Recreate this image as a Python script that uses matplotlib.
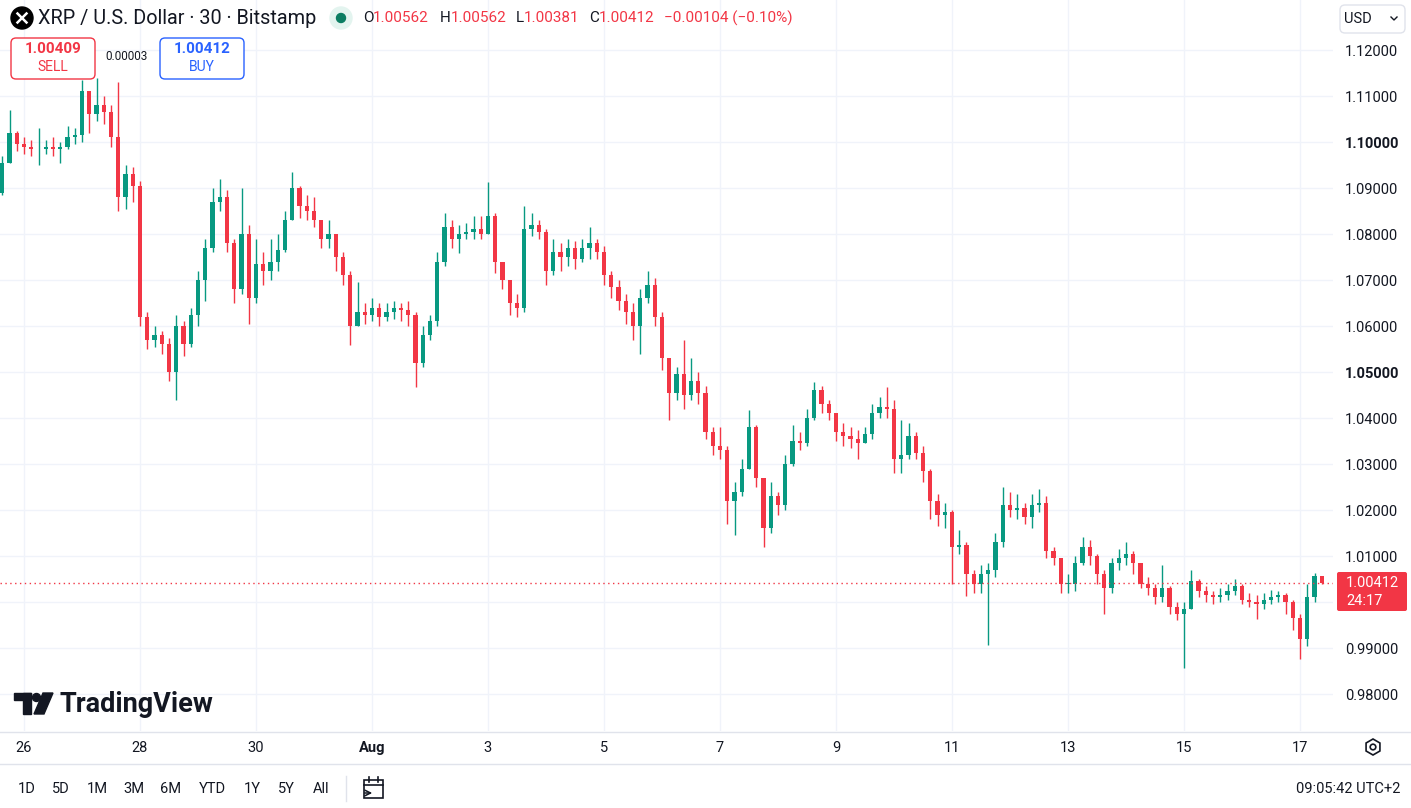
import numpy as np
import matplotlib
matplotlib.use('Agg')
import matplotlib.pyplot as plt
from matplotlib.patches import FancyBboxPatch, Circle, Rectangle, Polygon, RegularPolygon

plt.rcParams['font.family'] = ['Roboto', 'DejaVu Sans']

# 3-hour candles, first one Jul 25 15:00, last one Aug 17 09:00
first_open = 1.0890
closes = [
    1.0955, 1.1020, 1.0995,                                          # Jul 25
    1.0990, 1.0985, 1.0985, 1.0990, 1.0985, 1.0990, 1.1010, 1.1015,  # Jul 26
    1.1110, 1.1060, 1.1080, 1.1065, 1.1010, 1.0880, 1.0930, 1.0905,  # Jul 27
    1.0620, 1.0570, 1.0580, 1.0560, 1.0500, 1.0600, 1.0560, 1.0625,  # Jul 28
    1.0700, 1.0770, 1.0870, 1.0880, 1.0780, 1.0680, 1.0800, 1.0660,  # Jul 29
    1.0735, 1.0720, 1.0740, 1.0765, 1.0830, 1.0900, 1.0860, 1.0850,  # Jul 30
    1.0830, 1.0790, 1.0800, 1.0750, 1.0710, 1.0600, 1.0630, 1.0625,  # Jul 31
    1.0640, 1.0620, 1.0630, 1.0640, 1.0635, 1.0625, 1.0520, 1.0580,  # Aug 1
    1.0610, 1.0740, 1.0815, 1.0790, 1.0800, 1.0805, 1.0810, 1.0800,  # Aug 2
    1.0840, 1.0740, 1.0700, 1.0650, 1.0640, 1.0810, 1.0820, 1.0805,  # Aug 3
    1.0720, 1.0760, 1.0750, 1.0770, 1.0745, 1.0770, 1.0780, 1.0760,  # Aug 4
    1.0710, 1.0685, 1.0655, 1.0630, 1.0600, 1.0660, 1.0690, 1.0620,  # Aug 5
    1.0530, 1.0455, 1.0495, 1.0450, 1.0480, 1.0455, 1.0370, 1.0340,  # Aug 6
    1.0330, 1.0220, 1.0240, 1.0290, 1.0380, 1.0270, 1.0160, 1.0230,  # Aug 7
    1.0210, 1.0300, 1.0350, 1.0345, 1.0400, 1.0460, 1.0430, 1.0410,  # Aug 8
    1.0370, 1.0360, 1.0355, 1.0345, 1.0365, 1.0410, 1.0425, 1.0420,  # Aug 9
    1.0310, 1.0320, 1.0360, 1.0325, 1.0285, 1.0220, 1.0190, 1.0195,  # Aug 10
    1.0120, 1.0125, 1.0060, 1.0040, 1.0060, 1.0070, 1.0130, 1.0210,  # Aug 11
    1.0200, 1.0205, 1.0185, 1.0210, 1.0215, 1.0110, 1.0095, 1.0040,  # Aug 12
    1.0040, 1.0085, 1.0120, 1.0100, 1.0060, 1.0030, 1.0085, 1.0095,  # Aug 13
    1.0105, 1.0085, 1.0040, 1.0030, 1.0010, 1.0030, 0.9990, 0.9975,  # Aug 14
    0.9985, 1.0045, 1.0025, 1.0015, 1.0010, 1.0015, 1.0025, 1.0035,  # Aug 15
    1.0005, 1.0000, 0.9995, 1.0005, 1.0010, 1.0015, 1.0000, 0.9965,  # Aug 16
    0.9920, 1.0010, 1.0056, 1.00412,                                 # Aug 17
]
highs = [
    1.0970, 1.1070, 1.1025,
    1.1010, 1.1005, 1.1030, 1.1005, 1.1010, 1.1000, 1.1035, 1.1030,
    1.1135, 1.1110, 1.1140, 1.1100, 1.1080, 1.1130, 1.0950, 1.0945,
    1.0915, 1.0630, 1.0600, 1.0590, 1.0575, 1.0625, 1.0610, 1.0640,
    1.0720, 1.0790, 1.0900, 1.0920, 1.0895, 1.0790, 1.0900, 1.0820,
    1.0790, 1.0760, 1.0790, 1.0800, 1.0850, 1.0935, 1.0905, 1.0885,
    1.0880, 1.0830, 1.0830, 1.0800, 1.0760, 1.0720, 1.0695, 1.0650,
    1.0660, 1.0650, 1.0650, 1.0655, 1.0650, 1.0655, 1.0630, 1.0600,
    1.0625, 1.0760, 1.0845, 1.0830, 1.0820, 1.0825, 1.0840, 1.0840,
    1.0914, 1.0845, 1.0740, 1.0700, 1.0670, 1.0860, 1.0845, 1.0830,
    1.0810, 1.0790, 1.0780, 1.0790, 1.0785, 1.0790, 1.0815, 1.0790,
    1.0775, 1.0720, 1.0700, 1.0670, 1.0650, 1.0680, 1.0720, 1.0705,
    1.0630, 1.0530, 1.0510, 1.0570, 1.0530, 1.0500, 1.0470, 1.0380,
    1.0380, 1.0340, 1.0260, 1.0310, 1.0417, 1.0385, 1.0270, 1.0260,
    1.0240, 1.0320, 1.0385, 1.0370, 1.0420, 1.0479, 1.0470, 1.0440,
    1.0410, 1.0390, 1.0380, 1.0375, 1.0380, 1.0430, 1.0446, 1.0468,
    1.0440, 1.0395, 1.0390, 1.0370, 1.0340, 1.0290, 1.0235, 1.0215,
    1.0200, 1.0156, 1.0130, 1.0070, 1.0080, 1.0085, 1.0150, 1.0250,
    1.0240, 1.0235, 1.0215, 1.0235, 1.0245, 1.0230, 1.0120, 1.0090,
    1.0060, 1.0100, 1.0142, 1.0135, 1.0105, 1.0070, 1.0095, 1.0115,
    1.0130, 1.0110, 1.0085, 1.0055, 1.0040, 1.0080, 1.0035, 1.0000,
    1.0000, 1.0070, 1.0050, 1.0035, 1.0025, 1.0030, 1.0040, 1.0050,
    1.0040, 1.0020, 1.0015, 1.0020, 1.0026, 1.0025, 1.0020, 1.0005,
    0.9975, 1.0040, 1.0062, 1.00562,
]
lows = [
    1.0885, 1.0955, 1.0980,
    1.0975, 1.0970, 1.0950, 1.0975, 1.0970, 1.0955, 1.0985, 1.0995,
    1.1000, 1.1020, 1.1045, 1.1040, 1.0990, 1.0850, 1.0855, 1.0870,
    1.0600, 1.0550, 1.0555, 1.0540, 1.0480, 1.0440, 1.0535, 1.0555,
    1.0600, 1.0655, 1.0760, 1.0850, 1.0760, 1.0650, 1.0670, 1.0605,
    1.0650, 1.0690, 1.0700, 1.0720, 1.0760, 1.0830, 1.0835, 1.0830,
    1.0815, 1.0770, 1.0770, 1.0720, 1.0690, 1.0558, 1.0600, 1.0605,
    1.0610, 1.0600, 1.0610, 1.0615, 1.0610, 1.0600, 1.0467, 1.0510,
    1.0570, 1.0600, 1.0730, 1.0770, 1.0758, 1.0790, 1.0790, 1.0790,
    1.0800, 1.0715, 1.0680, 1.0625, 1.0620, 1.0630, 1.0795, 1.0790,
    1.0690, 1.0710, 1.0720, 1.0730, 1.0725, 1.0740, 1.0745, 1.0745,
    1.0690, 1.0660, 1.0635, 1.0605, 1.0570, 1.0540, 1.0650, 1.0600,
    1.0505, 1.0396, 1.0440, 1.0420, 1.0440, 1.0430, 1.0355, 1.0320,
    1.0310, 1.0170, 1.0146, 1.0230, 1.0330, 1.0250, 1.0120, 1.0150,
    1.0190, 1.0200, 1.0295, 1.0330, 1.0340, 1.0395, 1.0410, 1.0395,
    1.0350, 1.0340, 1.0335, 1.0310, 1.0345, 1.0355, 1.0400, 1.0400,
    1.0280, 1.0280, 1.0310, 1.0310, 1.0260, 1.0180, 1.0165, 1.0160,
    1.0040, 1.0105, 1.0012, 1.0020, 1.0020, 0.9907, 1.0055, 1.0120,
    1.0185, 1.0180, 1.0170, 1.0160, 1.0195, 1.0095, 1.0080, 1.0019,
    1.0020, 1.0025, 1.0080, 1.0080, 1.0040, 0.9975, 1.0020, 1.0070,
    1.0080, 1.0060, 1.0030, 1.0015, 0.9995, 1.0000, 0.9975, 0.9960,
    0.9856, 0.9985, 1.0010, 1.0000, 0.9995, 1.0000, 1.0005, 1.0015,
    0.9995, 0.9990, 0.9964, 0.9985, 0.9995, 1.0000, 0.9975, 0.9940,
    0.9877, 0.9905, 1.0000, 1.00381,
]
day_labels = ['26', '28', '30', 'Aug', '3', '5', '7', '9', '11', '13', '15', '17']
price_ticks = [0.98, 0.99, 1.00, 1.01, 1.02, 1.03, 1.04, 1.05, 1.06, 1.07, 1.08, 1.09, 1.10, 1.11, 1.12]
ranges = ['1D', '5D', '1M', '3M', '6M', 'YTD', '1Y', '5Y', 'All']
last_price = 1.00412

UP = '#089981'
DOWN = '#f23645'
TXT = '#131722'
GRID = '#f0f3fa'

closes = np.array(closes)
highs = np.array(highs)
lows = np.array(lows)
opens = np.concatenate([[first_open], closes[:-1]])
highs = np.maximum(highs, np.maximum(opens, closes))
lows = np.minimum(lows, np.minimum(opens, closes))
hours = -9 + 3 * np.arange(len(closes))   # hours from Jul 26 00:00

W, H = 1411, 808
fig = plt.figure(figsize=(W / 100, H / 100), dpi=100)
ax = fig.add_axes([0, (H - 731) / H, 1333 / W, 731 / H])

cols = np.where(closes >= opens, UP, DOWN)
ax.vlines(hours, lows, highs, colors=cols, lw=1, zorder=2)
ax.bar(hours, np.maximum(np.abs(closes - opens), 0.00006), bottom=np.minimum(opens, closes),
       width=1.7, color=cols, zorder=3)
ax.axhline(last_price, color=DOWN, lw=1, ls=(0, (1, 2.5)), zorder=4)

ax.set_xlim(-24 * 24 / 58, (1333 - 24) * 24 / 58)
ax.set_ylim(1.12 - 681 / 4600, 1.12 + 50 / 4600)
ax.set_xticks(np.arange(len(day_labels)) * 48)
ax.set_xticklabels(day_labels)
ax.get_xticklabels()[3].set_fontweight('bold')
ax.tick_params(axis='x', length=0, pad=7, labelsize=10.5, labelcolor=TXT)
ax.yaxis.tick_right()
ax.set_yticks(price_ticks)
# the 1.00000 label sits under the last-price tag
ax.set_yticklabels(['' if abs(p - 1.0) < 1e-9 else '%.5f' % p for p in price_ticks])
for lab, p in zip(ax.get_yticklabels(), price_ticks):
    if abs(p - 1.10) < 1e-9 or abs(p - 1.05) < 1e-9:
        lab.set_fontweight('bold')
ax.tick_params(axis='y', length=0, pad=8.5, labelsize=10.5, labelcolor=TXT)
ax.grid(color=GRID, lw=1)
ax.set_axisbelow(True)
for s in ax.spines.values():
    s.set_visible(False)

# overlay in pixel coordinates for the TradingView chrome
ov = fig.add_axes([0, 0, 1, 1])
ov.set_xlim(0, W)
ov.set_ylim(H, 0)
ov.axis('off')

ov.plot([0, W], [731.5, 731.5], color='#e0e3eb', lw=1)
ov.plot([0, W], [763.5, 763.5], color='#e0e3eb', lw=1)

# header
ov.add_patch(Circle((22, 18), 11, color='#000000'))
ov.plot([17.5, 26.5], [13.5, 22.5], color='white', lw=1.8)
ov.plot([17.5, 26.5], [22.5, 13.5], color='white', lw=1.8)
ov.text(38.5, 18, 'XRP / U.S. Dollar · 30 · Bitstamp', fontsize=14.3, color=TXT, va='center', ha='left')
ov.add_patch(Circle((341, 18), 11, color='#e3f4ef'))
ov.add_patch(Circle((341, 18), 4.5, color='#0b7d62'))
pieces = [(363, 'O', TXT), (373, '1.00562', DOWN), (440, 'H', TXT), (451, '1.00562', DOWN),
          (516, 'L', TXT), (524, '1.00381', DOWN), (589, 'C', TXT), (599, '1.00412', DOWN),
          (664, '−0.00104 (−0.10%)', DOWN)]
for px, s, c in pieces:
    ov.text(px, 18, s, fontsize=11, color=c, va='center', ha='left')

# sell / buy boxes
ov.add_patch(FancyBboxPatch((11, 38), 84, 41, boxstyle='round,pad=0,rounding_size=5',
                            fc='white', ec=DOWN, lw=1))
ov.text(53, 49, '1.00409', fontsize=11, fontweight='bold', color=DOWN, ha='center', va='center')
ov.text(53, 67, 'SELL', fontsize=10, color=DOWN, ha='center', va='center')
ov.text(127, 57, '0.00003', fontsize=8.5, color=TXT, ha='center', va='center')
ov.add_patch(FancyBboxPatch((160, 38), 84, 41, boxstyle='round,pad=0,rounding_size=5',
                            fc='white', ec='#2962ff', lw=1))
ov.text(202, 49, '1.00412', fontsize=11, fontweight='bold', color='#2962ff', ha='center', va='center')
ov.text(202, 67, 'BUY', fontsize=10, color='#2962ff', ha='center', va='center')

# currency dropdown
ov.add_patch(FancyBboxPatch((1340, 5), 65, 28, boxstyle='round,pad=0,rounding_size=5',
                            fc='white', ec='#e0e3eb', lw=1))
ov.text(1344, 19, 'USD', fontsize=10.5, color=TXT, ha='left', va='center')
ov.plot([1391, 1394, 1397], [17, 20, 17], color=TXT, lw=1)

# last price tag
ov.add_patch(FancyBboxPatch((1337, 572), 70, 39, boxstyle='round,pad=0,rounding_size=2',
                            fc=DOWN, ec='none'))
ov.text(1346, 583, '1.00412', fontsize=10.5, color='white', ha='left', va='center')
ov.text(1346, 601, '24:17', fontsize=10.5, color='white', ha='left', va='center')

# watermark logo
ov.add_patch(Rectangle((14, 693), 17, 7, color='#131722'))
ov.add_patch(Rectangle((23, 693), 8, 21, color='#131722'))
ov.add_patch(Circle((36.5, 697.5), 4, color='#131722'))
ov.add_patch(Polygon([(43, 693), (53, 693), (44, 714), (34, 714)], color='#131722'))
ov.text(59, 704, 'TradingView', fontsize=19.5, fontweight='bold', color='#131722', ha='left', va='center')

# settings icon on time axis
ov.add_patch(RegularPolygon((1373, 747), 6, radius=8, fill=False, ec=TXT, lw=1.2))
ov.add_patch(Circle((1373, 747), 2.8, fill=False, ec=TXT, lw=1.2))

# bottom toolbar
range_x = [27, 61, 97, 134, 171, 212, 252, 286, 321]
for px, s in zip(range_x, ranges):
    ov.text(px, 789, s, fontsize=10.5, color=TXT, ha='center', va='center')
ov.plot([346, 346], [776, 801], color='#e0e3eb', lw=1)
ov.add_patch(Rectangle((364, 780), 19, 18, fill=False, ec=TXT, lw=1.2))
ov.plot([364, 383], [785, 785], color=TXT, lw=1.2)
ov.plot([369, 369], [777, 782], color=TXT, lw=1.2)
ov.plot([378, 378], [777, 782], color=TXT, lw=1.2)
ov.annotate('', xy=(375, 793), xytext=(362, 793),
            arrowprops=dict(arrowstyle='->', color=TXT, lw=1.1))
ov.text(1400, 789, '09:05:42 UTC+2', fontsize=10.5, color=TXT, ha='right', va='center')

fig.savefig('out.png', dpi=100, facecolor='white')
